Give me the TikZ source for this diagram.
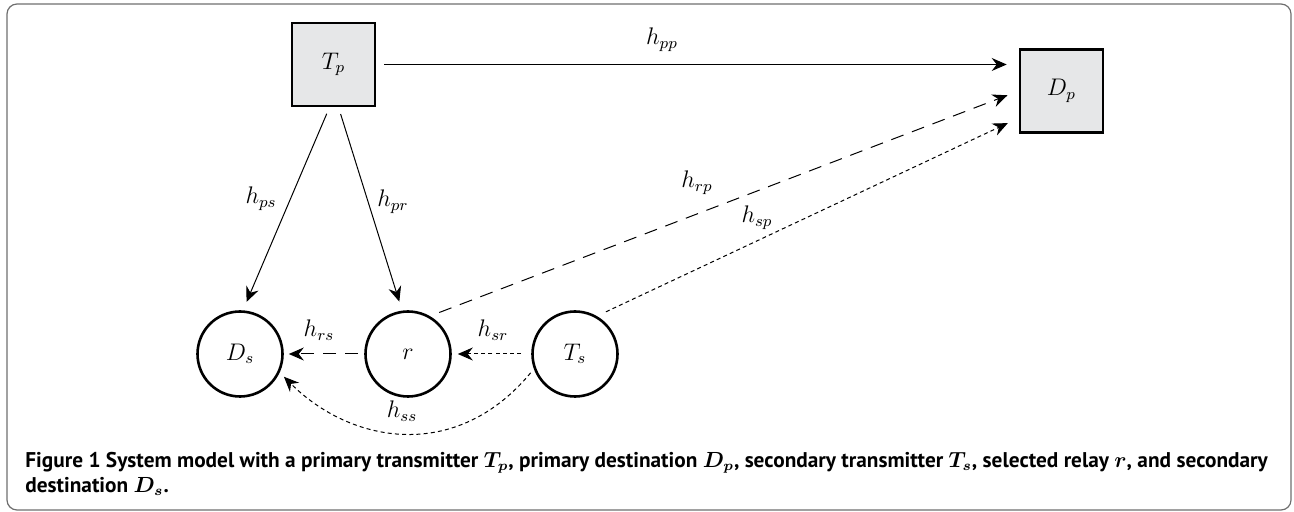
\documentclass[tikz,border=0pt]{standalone}
\usepackage{fontspec}
\setsansfont{PT Sans}
\usetikzlibrary{arrows.meta}
\definecolor{boxgray}{RGB}{230,231,232}
\definecolor{framegray}{RGB}{110,110,110}
\begin{document}
\begin{tikzpicture}[x=0.5pt,y=-0.5pt,
  box/.style={draw, line width=1.3pt, fill=boxgray, minimum size=41.5pt, inner sep=0pt, font=\fontsize{12}{14}\selectfont},
  circ/.style={circle, draw, line width=1.3pt, minimum size=42.5pt, inner sep=0pt, font=\fontsize{12}{14}\selectfont},
  link/.style={line width=0.5pt, -{Stealth[length=7.5pt,width=6.5pt,inset=2.5pt]}},
  longdash/.style={dash pattern=on 6.5pt off 4.5pt},
  shortdash/.style={dash pattern=on 2pt off 1.6pt},
  lbl/.style={anchor=base, inner sep=0pt, font=\fontsize{12}{14}\selectfont},
  capt/.style={anchor=base west, inner sep=0pt, font=\sffamily\bfseries\fontsize{10.65}{12.5}\selectfont}]
\useasboundingbox (0,0) rectangle (1294,512);
\draw[framegray, line width=0.6pt, rounded corners=5pt] (7,4) rectangle (1291,510);

\node[box] (Tp) at (333.5,64.5) {$T_p$};
\node[box] (Dp) at (1061.5,91) {$D_p$};
\node[circ] (Ds) at (240,354) {$D_s$};
\node[circ] (r)  at (408,354) {$r$};
\node[circ] (Ts) at (575,354) {$T_s$};

\draw[link, shorten <=4pt, shorten >=6pt] (Tp.east) -- (Tp.east -| Dp.west);
\draw[link, shorten <=3.5pt, shorten >=4.5pt] ([xshift=-2pt]Tp.south) -- ([xshift=1.5pt]Ds.north);
\draw[link, shorten <=3.5pt, shorten >=4.5pt] ([xshift=2.5pt]Tp.south) -- ([xshift=-3pt]r.north);
\draw[link, longdash, shorten <=5pt, shorten >=6pt] (r.60) -- (Dp.west);
\draw[link, shortdash, shorten <=5pt, shorten >=6pt] (Ts.60) -- ([yshift=-13.5pt]Dp.west);
\draw[link, longdash, shorten <=3pt, shorten >=2.5pt] (r.west) -- (Ds.east);
\draw[link, shortdash, shorten <=5pt, shorten >=3pt] (Ts.west) -- (r.east);
\draw[link, shortdash, shorten <=2.5pt, shorten >=3pt] (Ts.200) .. controls +(-78,94) and +(71,71) .. (Ds.-25);

\node[lbl] (lpp) at (662,45) {$h_{pp}$};
\node[lbl] (lps) at (261,204) {$h_{ps}$};
\node[lbl] (lpr) at (393,207) {$h_{pr}$};
\node[lbl] (lrp) at (697,188) {$h_{rp}$};
\node[lbl] (lsp) at (757,223) {$h_{sp}$};
\node[lbl] (lrs) at (319,337) {$h_{rs}$};
\node[lbl] (lsr) at (493,337) {$h_{sr}$};
\node[lbl] (lss) at (402,418) {$h_{ss}$};

\node[capt] (cap1) at (25,467) {Figure 1 System model with a primary transmitter {\boldmath$T_p$}, primary destination {\boldmath$D_p$}, secondary transmitter {\boldmath$T_s$}, selected relay {\boldmath$r$}, and secondary};
\node[capt] (cap2) at (25,492) {destination {\boldmath$D_s$}.};
\end{tikzpicture}
\end{document}
